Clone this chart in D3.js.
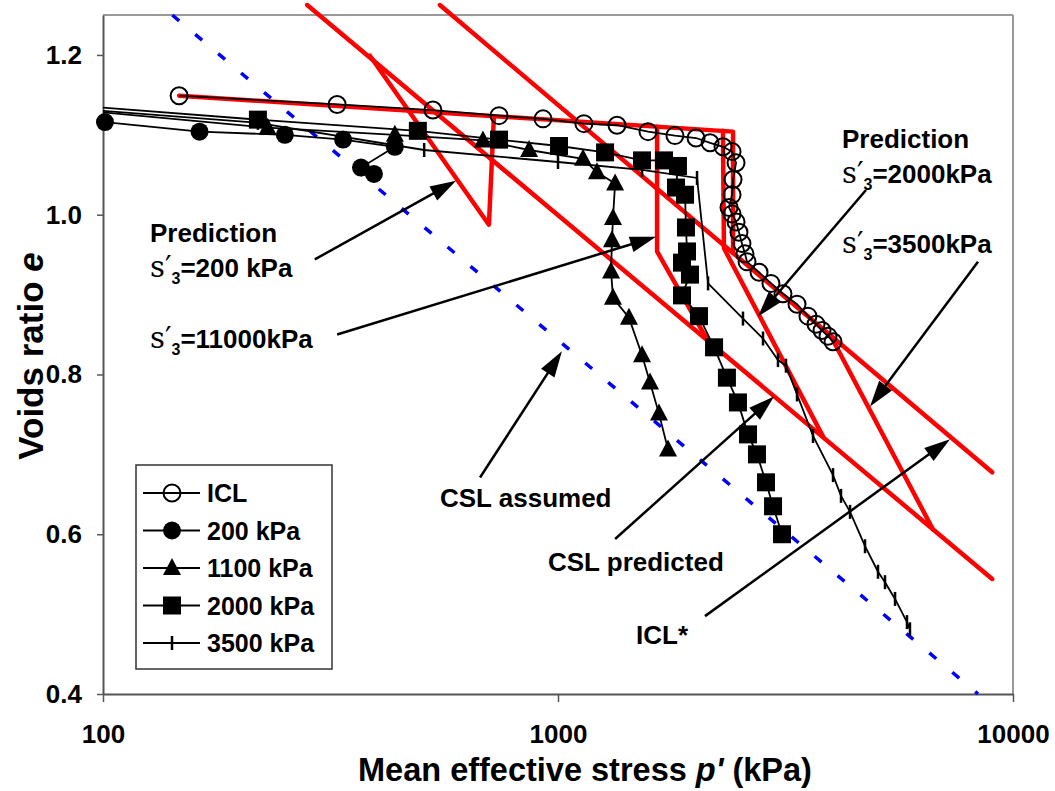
<!DOCTYPE html>
<html>
<head>
<meta charset="utf-8">
<script src="https://cdn.jsdelivr.net/npm/d3@7"></script>
<style>
  body { margin: 0; background: #fff; }
  svg { display: block; }
</style>
</head>
<body>
<svg id="chart" width="1055" height="791"></svg>
<script>
// ---- Measured series: mean effective stress p' (kPa) and voids ratio e ----
const iclP = [147, 327, 531, 742, 927, 1140, 1348, 1577, 1807, 2011, 2159, 2305, 2413, 2462, 2425, 2413,
              2376, 2413, 2462, 2499, 2537, 2576, 2603, 2766, 2938, 3122, 3352, 3543, 3690, 3804, 3921, 4022];
const iclE = [1.149, 1.138, 1.131, 1.124, 1.120, 1.114, 1.112, 1.104, 1.099, 1.096, 1.090, 1.085, 1.079, 1.065, 1.044, 1.025,
              1.009, 1.001, 0.991, 0.978, 0.964, 0.951, 0.941, 0.928, 0.914, 0.901, 0.888, 0.873, 0.863, 0.855, 0.848, 0.841];

const s200P = [101, 163, 251, 337, 438, 369, 394];
const s200E = [1.116, 1.104, 1.100, 1.094, 1.085, 1.059, 1.051];

const s1100P = [100, 230, 438, 684, 864, 1135, 1218, 1335, 1321, 1314, 1308, 1321, 1432, 1530, 1593, 1667, 1745];
const s1100E = [1.128, 1.109, 1.100, 1.093, 1.081, 1.070, 1.053, 1.039, 0.996, 0.968, 0.929, 0.896, 0.871, 0.824, 0.790, 0.751, 0.706];

const s2000P = [100, 219, 492, 742, 1005, 1269, 1530, 1710, 1835, 1817, 1902, 1911, 1921, 1873, 1950, 1873,
                2041, 2203, 2351, 2486, 2616, 2737, 2865, 2969, 3107];
const s2000E = [1.134, 1.119, 1.105, 1.094, 1.086, 1.078, 1.068, 1.068, 1.061, 1.034, 1.025, 0.984, 0.954, 0.940, 0.925, 0.899,
                0.873, 0.834, 0.796, 0.765, 0.725, 0.700, 0.665, 0.635, 0.600];

const s3500P = [100, 219, 508, 1000, 1530, 2021, 2137, 2550, 2822, 3044, 3170, 3352, 3635, 4022, 4188, 4384,
                4729, 5050, 5232, 5505, 5848, 5937];
const s3500E = [1.130, 1.115, 1.081, 1.066, 1.056, 1.046, 0.914, 0.870, 0.845, 0.818, 0.811, 0.775, 0.723, 0.674, 0.648, 0.628,
                0.585, 0.553, 0.540, 0.519, 0.490, 0.481];

const legendLabels = ["ICL", "200 kPa", "1100 kPa", "2000 kPa", "3500 kPa"];

// ---- Model lines ----
const cslAssumedP = [142, 8380];
const cslAssumedE = [1.25, 0.40];

const cslPredP = [281, 9000];
const cslPredE = [1.2625, 0.544];

const iclStarP = [550, 9000];
const iclStarE = [1.2625, 0.6775];

const predIclP = [147, 2425, 2425];
const predIclE = [1.149, 1.104, 0.952];

const pred200P = [723, 705, 386];
const pred200E = [1.123, 0.9875, 1.199];

const pred1100P = [1651, 1651, 2126];
const pred1100E = [1.110, 0.954, 0.844];

const pred2000P = [2304, 2316, 3822];
const pred2000E = [1.105, 0.958, 0.7225];

const pred3500P = [3960, 6670];
const pred3500E = [0.850, 0.606];

// ---- Axis ticks ----
const eTicks = [0.4, 0.6, 0.8, 1.0, 1.2];
const pTicks = [100, 1000, 10000];

// ---- Annotation arrows (tail -> head) in p', e ----
const arrowTailP = [292, 327, 674, 1335, 2104, 4753, 8377];
const arrowTailE = [0.944, 0.850, 0.671, 0.594, 0.4975, 1.031, 0.941];
const arrowHeadP = [597, 1642, 1020, 2984, 7270, 2752, 4850];
const arrowHeadE = [1.0425, 0.9725, 0.829, 0.7725, 0.719, 0.8725, 0.760];

const SANS = "'Liberation Sans', Arial, Helvetica, sans-serif";
const SERIF = "'DejaVu Serif', 'Liberation Serif', serif";

const svg = d3.select("#chart");
const x = d3.scaleLog().domain([100, 10000]).range([103, 1013]);
const y = d3.scaleLinear().domain([0.4, 1.25]).range([694, 15]);

const zip = (P, E) => P.map((p, i) => ({ p, e: E[i] }));
const line = d3.line().x(d => x(d.p)).y(d => y(d.e));

svg.append("defs").append("clipPath").attr("id", "plotClip")
  .append("rect").attr("x", 103).attr("y", 15).attr("width", 910).attr("height", 679);

// ---- Frame ----
svg.append("line").attr("x1", 103).attr("x2", 1013).attr("y1", 15).attr("y2", 15)
  .attr("stroke", "#999").attr("stroke-width", 2);
svg.append("line").attr("x1", 1013).attr("x2", 1013).attr("y1", 15).attr("y2", 694)
  .attr("stroke", "#999").attr("stroke-width", 2);

const gy = svg.append("g").attr("transform", "translate(103,0)")
  .call(d3.axisLeft(y).tickValues(eTicks).tickFormat(d3.format(".1f")).tickSize(6).tickSizeOuter(0).tickPadding(15));
const gx = svg.append("g").attr("transform", "translate(0,694)")
  .call(d3.axisBottom(x).tickValues(pTicks).tickFormat(d3.format("d")).tickSize(8).tickSizeOuter(0));
[gx, gy].forEach(g => {
  g.select(".domain").attr("stroke", "#555").attr("stroke-width", 2);
  g.selectAll(".tick line").attr("stroke", "#555").attr("stroke-width", 1.5);
  g.selectAll("text").attr("font-family", SANS).attr("font-weight", "bold")
    .attr("font-size", 26).attr("fill", "#000");
});
gx.selectAll("text").attr("y", 49).attr("dy", 0);

// ---- Axis titles ----
const xt = svg.append("text").attr("x", 585).attr("y", 781).attr("text-anchor", "middle")
  .attr("font-family", SANS).attr("font-weight", "bold").attr("font-size", 32.5);
xt.append("tspan").text("Mean effective stress ");
xt.append("tspan").attr("font-style", "italic").text("p'");
xt.append("tspan").text(" (kPa)");

const yt = svg.append("text").attr("transform", "translate(43,356) rotate(-90)").attr("text-anchor", "middle")
  .attr("font-family", SANS).attr("font-weight", "bold").attr("font-size", 35);
yt.append("tspan").text("Voids ratio ");
yt.append("tspan").attr("font-style", "italic").text("e");

// ---- Assumed critical state line ----
svg.append("path").datum(zip(cslAssumedP, cslAssumedE)).attr("d", line)
  .attr("fill", "none").attr("stroke", "#0000ff").attr("stroke-width", 3.5)
  .attr("stroke-dasharray", "9,21");

// ---- Model predictions (red) ----
[[cslPredP, cslPredE], [iclStarP, iclStarE], [predIclP, predIclE], [pred200P, pred200E],
 [pred1100P, pred1100E], [pred2000P, pred2000E], [pred3500P, pred3500E]].forEach(([P, E]) => {
  svg.append("path").datum(zip(P, E)).attr("d", line)
    .attr("fill", "none").attr("stroke", "#ff0000").attr("stroke-width", 4.5)
    .attr("stroke-linejoin", "round").attr("stroke-linecap", "round");
});

// ---- Measured series ----
function drawMarker(g, type, cx, cy) {
  if (type === "openCircle") {
    g.append("circle").attr("cx", cx).attr("cy", cy).attr("r", 8.5)
      .attr("fill", "none").attr("stroke", "#000").attr("stroke-width", 2);
  } else if (type === "circle") {
    g.append("circle").attr("cx", cx).attr("cy", cy).attr("r", 9).attr("fill", "#000");
  } else if (type === "triangle") {
    g.append("path").attr("d", `M${cx},${cy - 10}L${cx + 9},${cy + 7}L${cx - 9},${cy + 7}Z`).attr("fill", "#000");
  } else if (type === "square") {
    g.append("rect").attr("x", cx - 9).attr("y", cy - 9).attr("width", 18).attr("height", 18).attr("fill", "#000");
  } else if (type === "tick") {
    g.append("line").attr("x1", cx).attr("x2", cx).attr("y1", cy - 7).attr("y2", cy + 7)
      .attr("stroke", "#000").attr("stroke-width", 2.5);
  }
}

const series = [
  { P: iclP, E: iclE, marker: "openCircle" },
  { P: s200P, E: s200E, marker: "circle" },
  { P: s1100P, E: s1100E, marker: "triangle" },
  { P: s2000P, E: s2000E, marker: "square" },
  { P: s3500P, E: s3500E, marker: "tick" }
];

const dataLayer = svg.append("g");
series.forEach(s => {
  dataLayer.append("path").datum(zip(s.P, s.E)).attr("d", line)
    .attr("clip-path", "url(#plotClip)")
    .attr("fill", "none").attr("stroke", "#000").attr("stroke-width", 1.8);
});
series.forEach(s => {
  const g = dataLayer.append("g");
  zip(s.P, s.E).filter(d => d.p > 100).forEach(d => drawMarker(g, s.marker, x(d.p), y(d.e)));
});

// ---- Annotation arrows ----
const arrows = svg.append("g");
arrowTailP.forEach((_, i) => {
  const x1 = x(arrowTailP[i]), y1 = y(arrowTailE[i]);
  const x2 = x(arrowHeadP[i]), y2 = y(arrowHeadE[i]);
  const len = Math.hypot(x2 - x1, y2 - y1);
  const ux = (x2 - x1) / len, uy = (y2 - y1) / len;
  const L = 26, hw = 8;
  arrows.append("line").attr("x1", x1).attr("y1", y1)
    .attr("x2", x2 - ux * L * 0.7).attr("y2", y2 - uy * L * 0.7)
    .attr("stroke", "#000").attr("stroke-width", 2.5);
  const bx = x2 - ux * L, by = y2 - uy * L;
  arrows.append("path")
    .attr("d", `M${x2},${y2}L${bx - uy * hw},${by + ux * hw}L${bx + uy * hw},${by - ux * hw}Z`)
    .attr("fill", "#000");
});

// ---- Annotation text ----
const notes = svg.append("g").attr("font-family", SANS).attr("font-weight", "bold").attr("font-size", 26);
function plain(xp, yp, txt) {
  notes.append("text").attr("x", xp).attr("y", yp).text(txt);
}
function sigmaLabel(xp, yp, rest) {
  const t = notes.append("text").attr("x", xp).attr("y", yp);
  t.append("tspan").attr("font-family", SERIF).attr("font-weight", "normal").attr("font-size", 29).text("s′");
  t.append("tspan").attr("font-size", 16).attr("dy", 7).text("3");
  t.append("tspan").attr("dy", -7).text(rest);
}
plain(150, 242, "Prediction");
sigmaLabel(150, 277, "=200 kPa");
sigmaLabel(150, 348, "=11000kPa");
plain(440, 507, "CSL assumed");
plain(548, 571, "CSL predicted");
plain(636, 644, "ICL*");
plain(842, 148, "Prediction");
sigmaLabel(842, 183, "=2000kPa");
sigmaLabel(842, 253, "=3500kPa");

// ---- Legend ----
const legend = svg.append("g");
legend.append("rect").attr("x", 136).attr("y", 465).attr("width", 196).attr("height", 204)
  .attr("fill", "#fff").attr("stroke", "#333").attr("stroke-width", 1.5);
series.forEach((s, i) => {
  const ly = 493 + i * 37.5;
  legend.append("line").attr("x1", 143).attr("x2", 200).attr("y1", ly).attr("y2", ly)
    .attr("stroke", "#000").attr("stroke-width", 1.8);
  drawMarker(legend, s.marker, 172, ly);
  legend.append("text").attr("x", 207).attr("y", ly).attr("dy", "0.36em")
    .attr("font-family", SANS).attr("font-weight", "bold").attr("font-size", 25)
    .text(legendLabels[i]);
});
</script>
</body>
</html>
